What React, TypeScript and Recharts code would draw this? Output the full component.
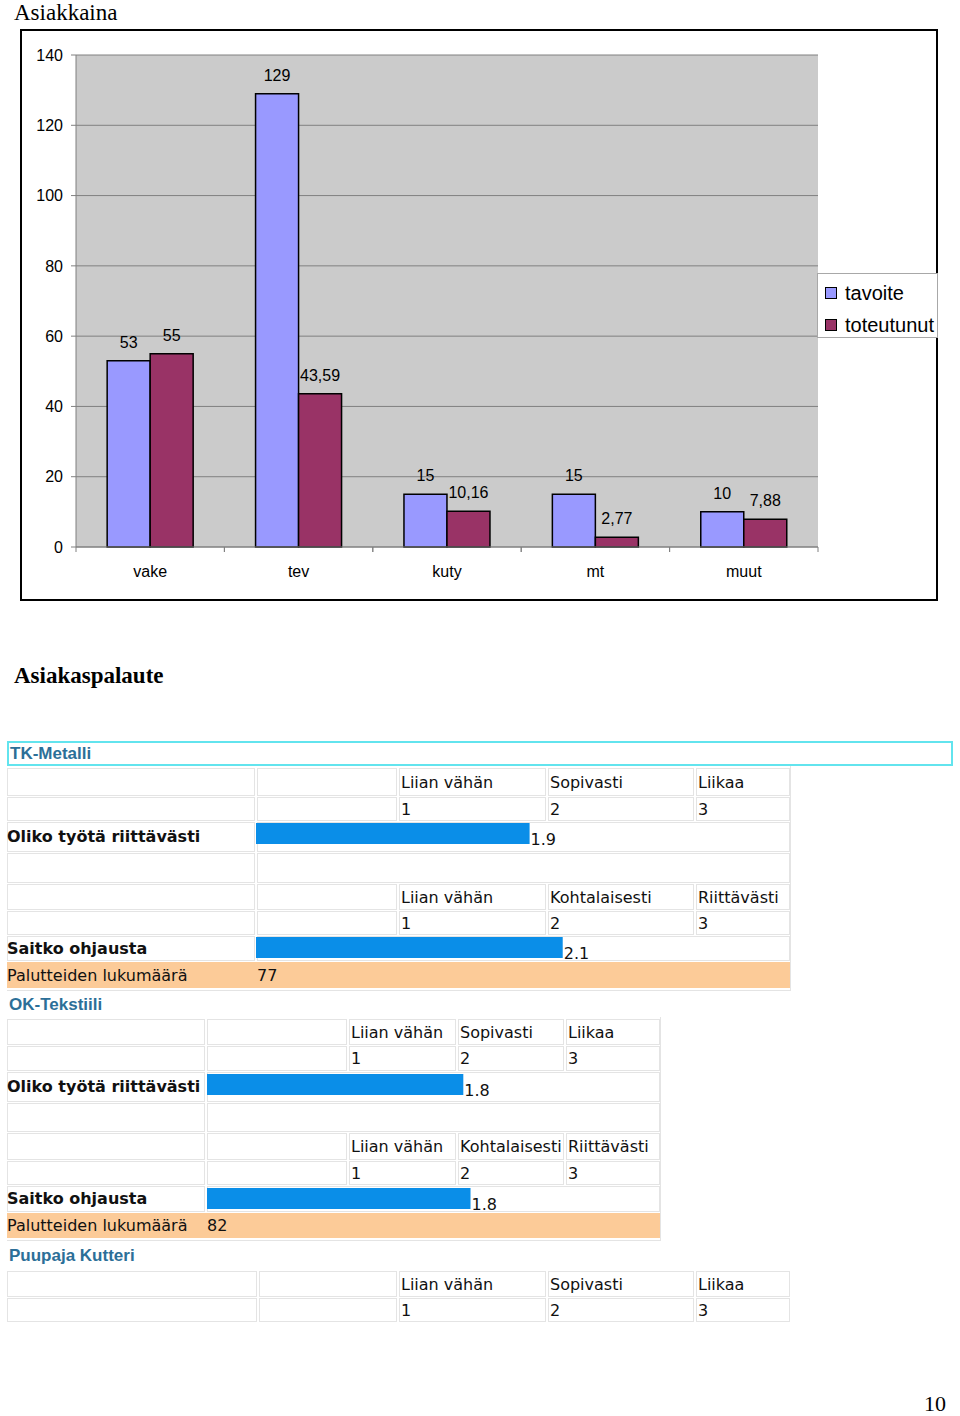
import React from 'react';
import { BarChart, Bar, XAxis, YAxis, CartesianGrid, LabelList, Legend } from 'recharts';

// Asiakkaina (tavoite vs toteutunut)
const categories = ['vake', 'tev', 'kuty', 'mt', 'muut'];
const tavoite = [53, 129, 15, 15, 10];
const toteutunut = [55, 43.59, 10.16, 2.77, 7.88];
const yTicks = [0, 20, 40, 60, 80, 100, 120, 140];

// Asiakaspalaute
const companies = ['TK-Metalli', 'OK-Tekstiili', 'Puupaja Kutteri'];
const workLabels = ['Liian vähän', 'Sopivasti', 'Liikaa'];
const guidanceLabels = ['Liian vähän', 'Kohtalaisesti', 'Riittävästi'];
const scaleNumbers = ['1', '2', '3'];
const questions = ['Oliko työtä riittävästi', 'Saitko ohjausta'];
const workScores = [1.9, 1.78];
const guidanceScores = [2.13, 1.83];
const feedbackCounts = [77, 82];
const countLabel = 'Palutteiden lukumäärä';

const chartData = categories.map((name, i) => ({
  name,
  tavoite: tavoite[i],
  toteutunut: toteutunut[i],
}));

const series = [
  { key: 'tavoite', color: '#9999ff' },
  { key: 'toteutunut', color: '#993366' },
];

const TABLE_FONT = '"DejaVu Sans", Verdana, sans-serif';
const BORDER = '1px solid #e4e4e4';

const fmtComma = (v: any) => String(v).replace('.', ',');

// category label plus small tick marks on the band edges
const renderCategoryTick = (props: any) => {
  const { x, y, payload } = props;
  const half = payload && payload.offset ? payload.offset : 0;
  const axisY = y - 19;
  return (
    <g>
      <line x1={x - half} x2={x - half} y1={axisY} y2={axisY + 5} stroke="#808080" />
      <line x1={x + half} x2={x + half} y1={axisY} y2={axisY + 5} stroke="#808080" />
      <text x={x} y={y} dy="0.71em" textAnchor="middle" fill="#000" fontSize={16}>
        {payload.value}
      </text>
    </g>
  );
};

const renderLegend = () => (
  <div
    style={{
      width: 121,
      height: 65,
      boxSizing: 'border-box',
      background: '#fff',
      border: '1px solid #a8a8a8',
      paddingTop: 3,
      fontSize: 20,
      fontFamily: '"Liberation Sans", Arial, sans-serif',
    }}
  >
    {series.map((s) => (
      <div key={s.key} style={{ display: 'flex', alignItems: 'center', height: 32 }}>
        <span
          style={{
            display: 'inline-block',
            width: 10,
            height: 10,
            marginLeft: 7,
            marginRight: 8,
            background: s.color,
            border: '1.5px solid #000',
          }}
        />
        <span>{s.key}</span>
      </div>
    ))}
  </div>
);

function TopChart() {
  return (
    <div style={{ position: 'absolute', left: 0, top: 0, fontFamily: '"Liberation Sans", Arial, sans-serif' }}>
      <BarChart
        width={960}
        height={620}
        data={chartData}
        margin={{ top: 55, right: 142, bottom: 33, left: 36 }}
        barCategoryGap="21%"
        barGap={0}
      >
        <CartesianGrid vertical={false} stroke="#808080" fill="#cbcbcb" fillOpacity={1} />
        <XAxis
          dataKey="name"
          tickLine={false}
          tickSize={0}
          tickMargin={19}
          axisLine={{ stroke: '#808080' }}
          tick={renderCategoryTick}
          height={40}
        />
        <YAxis
          domain={[0, 140]}
          ticks={yTicks}
          width={40}
          tickSize={5}
          tickMargin={8}
          tickLine={{ stroke: '#808080' }}
          axisLine={{ stroke: '#808080' }}
          tick={{ fill: '#000', fontSize: 16 }}
        />
        <YAxis
          yAxisId="right"
          orientation="right"
          domain={[0, 140]}
          width={0}
          tick={false}
          tickLine={false}
          axisLine={{ stroke: '#909090' }}
        />
        <Legend
          layout="horizontal"
          align="center"
          verticalAlign="middle"
          content={renderLegend}
          wrapperStyle={{ left: 817, top: 273, width: 121, height: 65 }}
        />
        {series.map((s) => (
          <Bar
            key={s.key}
            dataKey={s.key}
            fill={s.color}
            stroke="#000"
            strokeWidth={1.5}
            isAnimationActive={false}
          >
            <LabelList
              dataKey={s.key}
              position="top"
              offset={13}
              formatter={fmtComma}
              style={{ fill: '#000', fontSize: 16 }}
            />
          </Bar>
        ))}
      </BarChart>
    </div>
  );
}

const renderScoreLabel = (props: any) => {
  const x = Number(props.x) + Number(props.width) + 1;
  const y = Number(props.y) + Number(props.height) + 1;
  return (
    <text x={x} y={y} fontSize={16} fontFamily={TABLE_FONT} fill="#111">
      {Number(props.value).toFixed(1)}
    </text>
  );
};

function ScoreBar({ value, left, top }: { value: number; left: number; top: number }) {
  const data = [{ name: 'score', value }];
  return (
    <div style={{ position: 'absolute', left, top }}>
      <BarChart
        width={480}
        height={26}
        data={data}
        layout="vertical"
        margin={{ top: 0, right: 48, bottom: 5, left: 0 }}
        barCategoryGap={0}
      >
        <XAxis type="number" domain={[0, 3]} hide />
        <YAxis type="category" dataKey="name" hide />
        <Bar dataKey="value" fill="#0a8ee8" isAnimationActive={false}>
          <LabelList dataKey="value" content={renderScoreLabel} />
        </Bar>
      </BarChart>
    </div>
  );
}

function Cell({
  x0, x1, y0, y1, children,
}: {
  x0: number; x1: number; y0: number; y1: number; children?: React.ReactNode;
}) {
  return (
    <div
      style={{
        position: 'absolute',
        left: x0,
        top: y0,
        width: x1 - x0,
        height: y1 - y0,
        boxSizing: 'border-box',
        border: BORDER,
        display: 'flex',
        alignItems: 'center',
        paddingLeft: 1,
        whiteSpace: 'nowrap',
      }}
    >
      {children}
    </div>
  );
}

// rows: [top, bottom] for each of 8 rows
function FeedbackTable({
  cols, rows, labelsA, labelsB, scores, count, barLeft, barInset,
}: {
  cols: number[]; rows: number[][]; labelsA: string[]; labelsB?: string[];
  scores?: number[]; count?: number; barLeft?: number; barInset?: number;
}) {
  const [c1, c2, c3, c4, c5, right] = cols;
  const cells: React.ReactNode[] = [];
  const scaleRow = (r: number[], texts: string[], key: string) => {
    cells.push(<Cell key={key + 'a'} x0={c1} x1={c2 - 2} y0={r[0]} y1={r[1]} />);
    cells.push(<Cell key={key + 'b'} x0={c2} x1={c3 - 2} y0={r[0]} y1={r[1]} />);
    cells.push(<Cell key={key + 'c'} x0={c3} x1={c4 - 2} y0={r[0]} y1={r[1]}>{texts[0]}</Cell>);
    cells.push(<Cell key={key + 'd'} x0={c4} x1={c5 - 2} y0={r[0]} y1={r[1]}>{texts[1]}</Cell>);
    cells.push(<Cell key={key + 'e'} x0={c5} x1={right} y0={r[0]} y1={r[1]}>{texts[2]}</Cell>);
  };
  const questionRow = (r: number[], key: string) => {
    cells.push(<Cell key={key + 'a'} x0={c1} x1={c2 - 2} y0={r[0]} y1={r[1]} />);
    cells.push(<Cell key={key + 'b'} x0={c2} x1={right} y0={r[0]} y1={r[1]} />);
  };
  scaleRow(rows[0], labelsA, 'r0');
  scaleRow(rows[1], scaleNumbers, 'r1');
  if (labelsB && scores) {
    questionRow(rows[2], 'r2');
    questionRow(rows[3], 'r3');
    scaleRow(rows[4], labelsB, 'r4');
    scaleRow(rows[5], scaleNumbers, 'r5');
    questionRow(rows[6], 'r6');
  }
  return (
    <div style={{ fontFamily: TABLE_FONT, fontSize: 16, color: '#111' }}>
      {cells}
      {labelsB && scores && (
        <>
          <div style={{ position: 'absolute', left: c1, top: rows[2][0], height: rows[2][1] - rows[2][0] - 2, display: 'flex', alignItems: 'center', fontWeight: 'bold', whiteSpace: 'nowrap' }}>
            {questions[0]}
          </div>
          <div style={{ position: 'absolute', left: c1, top: rows[6][0], height: rows[6][1] - rows[6][0] - 1, display: 'flex', alignItems: 'center', fontWeight: 'bold', whiteSpace: 'nowrap' }}>
            {questions[1]}
          </div>
          <ScoreBar value={scores[0]} left={barLeft!} top={rows[2][0] + barInset!} />
          <ScoreBar value={scores[1]} left={barLeft!} top={rows[6][0] + barInset!} />
          <div
            style={{
              position: 'absolute', left: c1, top: rows[7][0], width: right - c1, height: rows[7][1] - rows[7][0],
              background: '#fccb98', display: 'flex', alignItems: 'center', whiteSpace: 'nowrap',
            }}
          >
            <span style={{ width: c2 - c1 }}>{countLabel}</span>
            <span>{count}</span>
          </div>
          <div
            style={{
              position: 'absolute', left: c1, top: rows[0][0] - 2, width: right - c1 + 1,
              height: rows[7][1] - rows[0][0] + 5, boxSizing: 'border-box',
              borderRight: BORDER, borderBottom: BORDER,
            }}
          />
        </>
      )}
    </div>
  );
}

const headerStyle: React.CSSProperties = {
  position: 'absolute',
  fontFamily: '"Liberation Sans", Arial, sans-serif',
  fontWeight: 'bold',
  fontSize: 17,
  color: '#2c6f98',
  whiteSpace: 'nowrap',
};

export default function App() {
  return (
    <div style={{ position: 'absolute', left: 0, top: 0, width: 960, height: 1416, background: '#fff', overflow: 'hidden' }}>
      <div style={{ position: 'absolute', left: 14, top: 1, fontFamily: '"Liberation Serif", "Times New Roman", serif', fontSize: 23, lineHeight: '23px' }}>
        Asiakkaina
      </div>
      <div style={{ position: 'absolute', left: 20, top: 29, width: 918, height: 572, boxSizing: 'border-box', border: '2px solid #000' }} />
      <TopChart />

      <div style={{ position: 'absolute', left: 14, top: 664, fontFamily: '"Liberation Serif", "Times New Roman", serif', fontSize: 23, lineHeight: '23px', fontWeight: 'bold' }}>
        Asiakaspalaute
      </div>

      <div
        style={{
          ...headerStyle, left: 7, top: 741, width: 946, height: 25, boxSizing: 'border-box',
          border: '2px solid #62e4ee', display: 'flex', alignItems: 'center', paddingLeft: 1,
        }}
      >
        {companies[0]}
      </div>
      <FeedbackTable
        cols={[7, 257, 399, 548, 696, 790]}
        rows={[[768, 796], [797, 821], [822, 852], [853, 883], [884, 910], [911, 935], [936, 961], [962, 988]]}
        labelsA={workLabels}
        labelsB={guidanceLabels}
        scores={[workScores[0], guidanceScores[0]]}
        count={feedbackCounts[0]}
        barLeft={256}
        barInset={1}
      />

      <div style={{ ...headerStyle, left: 9, top: 995, lineHeight: '20px' }}>{companies[1]}</div>
      <FeedbackTable
        cols={[7, 207, 349, 458, 566, 660]}
        rows={[[1019, 1045], [1046, 1071], [1072, 1102], [1103, 1132], [1133, 1160], [1161, 1185], [1186, 1212], [1213, 1238]]}
        labelsA={workLabels}
        labelsB={guidanceLabels}
        scores={[workScores[1], guidanceScores[1]]}
        count={feedbackCounts[1]}
        barLeft={207}
        barInset={2}
      />

      <div style={{ ...headerStyle, left: 9, top: 1246, lineHeight: '20px' }}>{companies[2]}</div>
      <FeedbackTable
        cols={[7, 259, 399, 548, 696, 790]}
        rows={[[1271, 1297], [1298, 1322]]}
        labelsA={workLabels}
      />

      <div style={{ position: 'absolute', left: 924, top: 1393, fontFamily: '"Liberation Serif", "Times New Roman", serif', fontSize: 22, lineHeight: '22px' }}>
        10
      </div>
    </div>
  );
}
